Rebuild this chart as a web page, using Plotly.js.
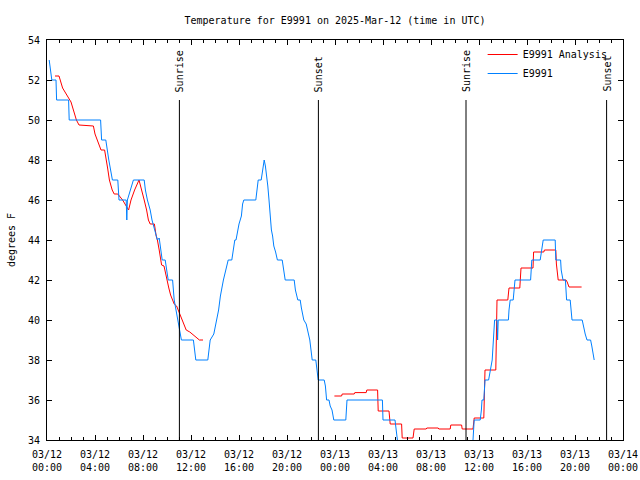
<!DOCTYPE html>
<html>
<head>
<meta charset="utf-8">
<script src="https://cdn.plot.ly/plotly-3.0.1.min.js"></script>
<style>html,body{margin:0;padding:0;background:#fff;}#chart{width:640px;height:480px;}</style>
</head>
<body>
<div id="chart"></div>
<script>
// Hours since 2025-03-12 00:00 UTC
const obsHours = [0.19,0.3,0.4,0.75,0.8,1.8,1.85,4.47,4.55,4.9,5.0,5.15,5.3,5.45,5.9,6.0,6.6,6.65,6.7,6.85,7.0,7.2,8.1,8.2,8.36,8.6,8.75,9.0,9.2,
  9.35,9.45,9.6,9.85,9.95,10.1,10.47,10.6,10.75,10.9,11.0,11.2,12.2,12.4,13.4,13.6,13.9,14.1,14.3,14.45,14.6,14.7,14.9,15.1,15.4,15.5,15.65,15.75,15.9,16.0,16.2,16.3,16.4,
  17.4,17.5,17.6,17.85,17.95,18.05,18.1,18.2,18.3,18.4,18.5,18.6,18.7,18.8,18.9,19.05,19.2,19.6,19.7,19.85,20.6,20.7,20.9,21.1,21.2,21.3,21.4,21.6,21.75,21.9,
  22.0,22.1,22.4,22.5,22.6,23.1,23.2,23.3,23.5,23.6,23.75,23.9,24.9,25.0,27.95,28.0,29.0,29.1,29.2,29.3,35.4,35.5,35.6,36.1,36.2,36.25,36.4,36.45,36.5,36.8,36.85,36.95,
  37.1,37.15,37.2,37.3,37.5,37.55,37.6,38.45,38.5,38.6,38.85,38.9,39.0,40.3,40.35,40.4,41.1,41.2,41.35,42.35,42.4,42.8,42.85,43.0,43.2,43.25,43.3,43.6,43.65,43.75,
  44.6,44.7,44.85,45.0,45.3,45.4,45.5,45.6];
const obsTemps = [53.0,52.4,52.0,52.0,51.0,51.0,50.0,50.0,49.0,49.0,48.5,48.0,47.5,47.0,47.0,46.0,46.0,45.0,46.0,46.3,46.7,47.0,47.0,46.5,46.0,45.5,45.0,44.5,44.0,
  44.1,43.7,43.0,43.0,42.5,42.0,42.0,41.0,40.5,40.0,39.5,39.0,39.0,38.0,38.0,39.0,39.3,39.9,40.5,41.2,41.8,42.0,42.5,43.0,43.0,43.5,44.0,44.0,44.5,44.8,45.2,45.8,46.0,
  46.0,46.5,47.0,47.0,47.5,47.8,48.0,47.7,47.3,46.7,46.0,45.1,44.5,44.2,43.7,43.4,43.0,43.0,42.5,42.0,42.0,41.5,41.0,41.0,40.6,40.3,40.0,39.8,39.4,39.0,
  38.5,38.0,38.0,37.3,37.0,37.0,36.7,36.0,36.0,35.7,35.5,35.0,35.0,36.0,36.0,35.0,35.0,34.5,34.0,33.5,33.5,34.0,35.0,35.0,35.5,36.0,36.0,36.5,37.0,37.0,37.25,37.5,
  38.0,38.5,39.5,40.0,40.0,39.0,40.0,40.0,40.5,41.0,41.0,41.5,42.0,42.0,42.5,43.0,43.0,43.5,44.0,44.0,43.0,43.0,42.5,42.0,42.0,41.5,41.0,41.0,40.5,40.0,
  40.0,39.7,39.3,39.0,39.0,38.7,38.3,38.0];

const anaHours = [0.67,1.0,1.3,1.83,2.0,2.2,2.45,2.67,3.86,4.0,4.2,4.5,4.8,4.9,5.05,5.2,5.44,5.6,5.9,6.3,6.6,6.8,7.0,7.3,7.67,7.9,8.1,8.3,8.45,8.6,8.95,9.1,9.2,9.35,9.45,
  9.55,9.75,9.85,10.0,10.15,10.3,10.6,10.8,11.0,11.2,11.4,11.6,11.9,12.3,12.7,13.0,null,
  23.95,24.55,24.6,25.6,25.65,26.6,26.65,27.55,27.6,28.5,28.6,29.55,29.6,30.5,30.6,31.6,31.65,32.6,32.65,33.6,33.65,34.55,34.6,35.5,35.6,36.4,36.5,37.4,37.5,
  38.4,38.45,38.5,39.4,39.45,39.5,40.5,40.55,41.4,41.45,42.4,42.45,42.6,43.25,43.35,43.45,43.5,44.55];
const anaTemps = [52.2,52.2,51.6,51.1,50.9,50.5,50.0,49.75,49.7,49.3,49.0,48.5,48.5,48.2,47.6,47.0,46.5,46.3,46.3,46.0,45.7,45.5,46.0,46.5,47.0,46.5,46.0,45.5,45.0,44.8,44.8,44.2,44.0,43.5,43.2,
  42.75,42.7,42.4,42.0,41.6,41.25,40.8,40.7,40.4,40.1,39.8,39.5,39.4,39.2,39.0,39.0,null,
  36.2,36.2,36.3,36.3,36.37,36.37,36.5,36.5,35.45,35.45,34.8,34.8,34.1,34.1,34.55,34.55,34.6,34.6,34.55,34.55,34.75,34.75,34.55,34.55,35.1,35.1,37.5,37.5,41.0,
  41.0,41.3,41.6,41.6,42.1,42.6,42.6,43.4,43.4,43.5,43.5,42.8,42.0,42.0,41.9,41.7,41.65,41.65];

const sunTimes = ['2025-03-12 11:02','2025-03-12 22:37','2025-03-13 10:55','2025-03-13 22:38'];
const sunLabels = ['Sunrise','Sunset','Sunrise','Sunset'];

const tickTimes = ['2025-03-12 00:00','2025-03-12 04:00','2025-03-12 08:00','2025-03-12 12:00','2025-03-12 16:00','2025-03-12 20:00',
  '2025-03-13 00:00','2025-03-13 04:00','2025-03-13 08:00','2025-03-13 12:00','2025-03-13 16:00','2025-03-13 20:00','2025-03-14 00:00'];
const tickLabels = ['03/12<br>00:00','03/12<br>04:00','03/12<br>08:00','03/12<br>12:00','03/12<br>16:00','03/12<br>20:00',
  '03/13<br>00:00','03/13<br>04:00','03/13<br>08:00','03/13<br>12:00','03/13<br>16:00','03/13<br>20:00','03/14<br>00:00'];
const yTicks = [34,36,38,40,42,44,46,48,50,52,54];

function pad(n){return (n<10?'0':'')+n;}
function ts(h){
  if(h===null) return null;
  const m = Math.round(h*60);
  const d = 12 + Math.floor(m/1440);
  const r = m % 1440;
  return '2025-03-' + d + ' ' + pad(Math.floor(r/60)) + ':' + pad(r%60);
}

const FONT = 'DejaVu Sans Mono, monospace';

const traces = [
  {x: anaHours.map(ts), y: anaTemps, type:'scatter', mode:'lines', name:'E9991 Analysis',
   line:{color:'#ff0000', width:1}, connectgaps:false},
  {x: obsHours.map(ts), y: obsTemps, type:'scatter', mode:'lines', name:'E9991',
   line:{color:'#0080ff', width:1}}
];

const shapes = sunTimes.map(t => ({type:'line', xref:'x', yref:'y', x0:t, x1:t, y0:34, y1:51, line:{color:'#000', width:1}}));
const annotations = sunTimes.map((t,i) => ({xref:'x', yref:'y', x:t, y:51.3, text:sunLabels[i], textangle:-90,
  showarrow:false, xanchor:'center', yanchor:'bottom', font:{family:FONT, size:10, color:'#000'}}));

const layout = {
  width:640, height:480,
  margin:{l:47, r:17, t:40, b:40},
  paper_bgcolor:'#fff', plot_bgcolor:'#fff',
  font:{family:FONT, size:10, color:'#000'},
  title:{text:'Temperature for E9991 on 2025-Mar-12 (time in UTC)', x:0.5, xref:'paper', xanchor:'center',
         y:1-20/480, yref:'container', yanchor:'middle', font:{family:FONT, size:10, color:'#000'}},
  xaxis:{type:'date', range:['2025-03-12 00:00','2025-03-14 00:00'], tickmode:'array', tickvals:tickTimes, ticktext:tickLabels,
    ticks:'inside', ticklen:5, tickcolor:'#000', showline:true, linecolor:'#000', linewidth:1, mirror:'ticks',
    ticklabelstandoff:5,
    showgrid:false, zeroline:false, fixedrange:true,
    minor:{tickmode:'linear', tick0:'2025-03-12 00:00', dtick:3600000, ticks:'inside', ticklen:3, tickcolor:'#000', showgrid:false}},
  yaxis:{range:[34,54], tickmode:'array', tickvals:yTicks, ticks:'inside', ticklen:5, tickcolor:'#000',
    showline:true, linecolor:'#000', linewidth:1, mirror:'ticks', showgrid:false, zeroline:false,
    ticklabelstandoff:4,
    title:{text:'degrees F', font:{family:FONT, size:10}, standoff:10}},
  showlegend:true,
  legend:{x:0.982, xanchor:'right', y:1, yanchor:'top', bgcolor:'rgba(0,0,0,0)', font:{family:FONT, size:10}, tracegroupgap:0},
  shapes: shapes,
  annotations: annotations
};

Plotly.newPlot('chart', traces, layout, {staticPlot:true, displayModeBar:false});
</script>
</body>
</html>
